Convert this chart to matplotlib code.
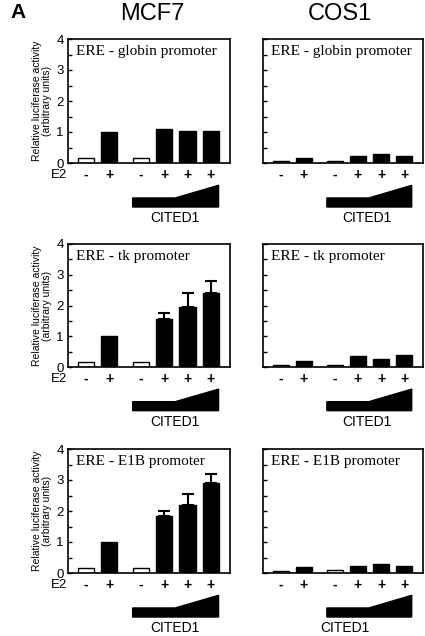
import matplotlib
matplotlib.use("Agg")
import matplotlib.pyplot as plt
from matplotlib.patches import Polygon
import matplotlib.transforms as mtransforms

# ---- data ----
positions = [0, 1, 2.35, 3.35, 4.35, 5.35]
e2_signs = ["-", "+", "-", "+", "+", "+"]
open_bar = [True, False, True, False, False, False]
promoters = ["ERE - globin promoter", "ERE - tk promoter", "ERE - E1B promoter"]
cells = ["MCF7", "COS1"]

mcf7_globin = [0.15, 1.0, 0.15, 1.1, 1.03, 1.03]
mcf7_tk = [0.15, 1.0, 0.15, 1.55, 1.95, 2.4]
mcf7_tk_err = [0, 0, 0, 0.2, 0.45, 0.4]
mcf7_e1b = [0.15, 1.0, 0.15, 1.85, 2.2, 2.9]
mcf7_e1b_err = [0, 0, 0, 0.16, 0.35, 0.3]
cos1_globin = [0.08, 0.15, 0.08, 0.24, 0.3, 0.21]
cos1_tk = [0.07, 0.2, 0.07, 0.36, 0.26, 0.39]
cos1_e1b = [0.08, 0.2, 0.09, 0.22, 0.28, 0.22]
zero_err = [0, 0, 0, 0, 0, 0]

values = [[mcf7_globin, cos1_globin], [mcf7_tk, cos1_tk], [mcf7_e1b, cos1_e1b]]
errors = [[zero_err, zero_err], [mcf7_tk_err, zero_err], [mcf7_e1b_err, zero_err]]
yticks = [0, 1, 2, 3, 4]
cited_label_x = [[3.82, 3.74], [3.82, 3.74], [3.82, 2.79]]

W, H = 425, 636
fig = plt.figure(figsize=(W / 100, H / 100), dpi=100)
fig.patch.set_facecolor("white")

rows_px = [(39, 163), (244, 367), (449, 573)]
cols_px = [(68, 230), (263, 423)]

sans = "Liberation Sans"
serif = "Liberation Serif"
all_ticks = [0, 0.5, 1, 1.5, 2, 2.5, 3, 3.5, 4]

for r, (ytop, ybot) in enumerate(rows_px):
    for c, (xl, xr) in enumerate(cols_px):
        ax = fig.add_axes([xl / W, 1 - ybot / H, (xr - xl) / W, (ybot - ytop) / H])
        vals = values[r][c]
        errs = errors[r][c]
        fc = ["white" if o else "black" for o in open_bar]
        ax.bar(positions, vals, width=0.7, color=fc, edgecolor="black", linewidth=1.0, zorder=2)
        for x, v, e in zip(positions, vals, errs):
            if e > 0:
                ax.errorbar([x], [v], yerr=[[0], [e]], fmt="none", ecolor="black",
                            elinewidth=1.5, capsize=4.5, capthick=1.5, zorder=3)
        ax.set_xlim(-0.77, 6.17)
        ax.set_ylim(0, 4)
        ax.set_xticks([])
        ax.set_yticks(all_ticks)
        if c == 0:
            ax.set_yticklabels([str(t) if t in yticks else "" for t in all_ticks],
                               fontsize=9.5, family=sans)
            ax.set_ylabel("Relative luciferase activity\n(arbitrary units)",
                          fontsize=7.5, family=sans, linespacing=1.0, labelpad=3)
        else:
            ax.set_yticklabels([])
        ax.tick_params(axis="y", direction="in", length=3, width=1.0, pad=3)
        for s in ax.spines.values():
            s.set_linewidth(1.2)
        ax.text(0.05, 0.95, promoters[r], transform=ax.transAxes, ha="left", va="top",
                fontsize=11, family=serif)

        trans = mtransforms.blended_transform_factory(ax.transData, ax.transAxes)
        for x, sgn in zip(positions, e2_signs):
            ax.text(x, -0.095, sgn, transform=trans, ha="center", va="center",
                    fontsize=10, family=sans, fontweight="bold")
        if c == 0:
            ax.text(-0.005, -0.1, "E2", transform=ax.transAxes, ha="right", va="center",
                    fontsize=9.5, family=sans)
        # CITED1 wedge
        x0, x1 = positions[2] - 0.35, positions[5] + 0.33
        xb = 3.82
        wedge = Polygon([(x0, -0.355), (x1, -0.355), (x1, -0.18), (xb, -0.282), (x0, -0.282)],
                        closed=True, facecolor="black", edgecolor="black",
                        transform=trans, clip_on=False)
        ax.add_patch(wedge)
        ax.text(cited_label_x[r][c], -0.445, "CITED1", transform=trans, ha="center",
                va="center", fontsize=10, family=sans)

fig.text(10 / W, 1 - 13 / H, "A", fontsize=15, fontweight="bold", family=sans,
         ha="left", va="center")
fig.text(152 / W, 1 - 14 / H, cells[0], fontsize=17, family=sans, ha="center", va="center")
fig.text(340 / W, 1 - 14 / H, cells[1], fontsize=17, family=sans, ha="center", va="center")

fig.savefig("out.png", dpi=100)
